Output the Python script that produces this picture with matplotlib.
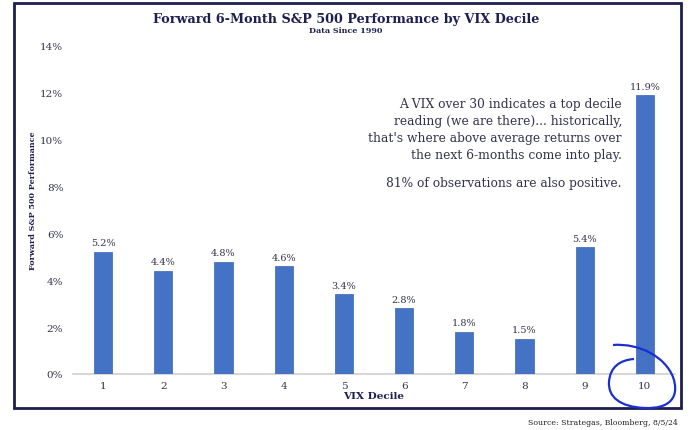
import matplotlib
matplotlib.use("Agg")
import matplotlib.pyplot as plt
from matplotlib.patches import Rectangle
from matplotlib.path import Path
from matplotlib.patches import PathPatch

deciles = ["1", "2", "3", "4", "5", "6", "7", "8", "9", "10"]
performance = [5.2, 4.4, 4.8, 4.6, 3.4, 2.8, 1.8, 1.5, 5.4, 11.9]
y_ticks = [0, 2, 4, 6, 8, 10, 12, 14]

navy = "#1c1f4f"
txt = "#33334d"
bar_color = "#4472c4"

plt.rcParams["font.family"] = ["DejaVu Serif"]

fig = plt.figure(figsize=(6.92, 4.31), dpi=100)
ax = fig.add_axes([73/692, 1-375/431, (675-73)/692, (375-47)/431])

x = range(len(deciles))
ax.bar(x, performance, width=0.3, color=bar_color, edgecolor="#3a64b0", linewidth=0.5, zorder=2)
for xi, v in zip(x, performance):
    ax.text(xi, v + 0.2, f"{v:.1f}%", ha="center", va="bottom", fontsize=7, color=txt)

ax.set_xlim(-0.5, len(deciles) - 0.5)
ax.set_ylim(0, 14)
ax.set_yticks(y_ticks)
ax.set_yticklabels([f"{t}%" for t in y_ticks], fontsize=7.5, color=txt)
ax.set_xticks(list(x))
ax.set_xticklabels(deciles, fontsize=7.5, color=txt)
ax.tick_params(axis="x", length=0, pad=5)
ax.tick_params(axis="y", length=0, pad=7)
for s in ax.spines.values():
    s.set_visible(False)
ax.axhline(0, color="#d0d0d0", linewidth=1.2, zorder=1, clip_on=False)

ax.set_xlabel("VIX Decile", fontsize=7.5, fontweight="bold", color=navy, labelpad=1)
fig.text(33/692, 1-201/431, "Forward S&P 500 Performance", rotation=90, ha="center", va="center",
         fontsize=5.8, color=navy, fontweight="bold")

fig.text(0.5, 1-19/431, "Forward 6-Month S&P 500 Performance by VIX Decile", ha="center", va="center",
         fontsize=9.2, fontweight="bold", color=navy)
fig.text(0.5, 1-31/431, "Data Since 1990", ha="center", va="center", fontsize=5.8, fontweight="bold", color=navy)

note = ("A VIX over 30 indicates a top decile\n"
        "reading (we are there)... historically,\n"
        "that's where above average returns over\n"
        "the next 6-months come into play.")
fig.text(622/692, 1-98/431, note, ha="right", va="top", fontsize=8.8, color=txt, linespacing=1.39)
fig.text(622/692, 1-184/431, "81% of observations are also positive.", ha="right", va="center",
         fontsize=8.8, color=txt)

# frame
fig.patches.append(Rectangle((14/692, 1-409/431), (681-14)/692, (409-4)/431, transform=fig.transFigure,
                             fill=False, edgecolor=navy, linewidth=2))
fig.text(678/692, 1-423/431, "Source: Strategas, Bloomberg, 8/5/24", ha="right", va="center",
         fontsize=5.6, color="#222222")

# hand-drawn circle annotation
verts = [(613, 346),
         (640, 344), (665, 358), (673, 378),
         (680, 398), (670, 410), (645, 409),
         (620, 408), (608, 398), (609, 383),
         (610, 368), (620, 361), (634, 360)]
verts = [(vx/692, 1-vy/431) for vx, vy in verts]
codes = [Path.MOVETO] + [Path.CURVE4]*12
fig.patches.append(PathPatch(Path(verts, codes), transform=fig.transFigure, fill=False,
                             edgecolor="#1a2fd0", linewidth=1.6))

fig.savefig("out.png", dpi=100)
